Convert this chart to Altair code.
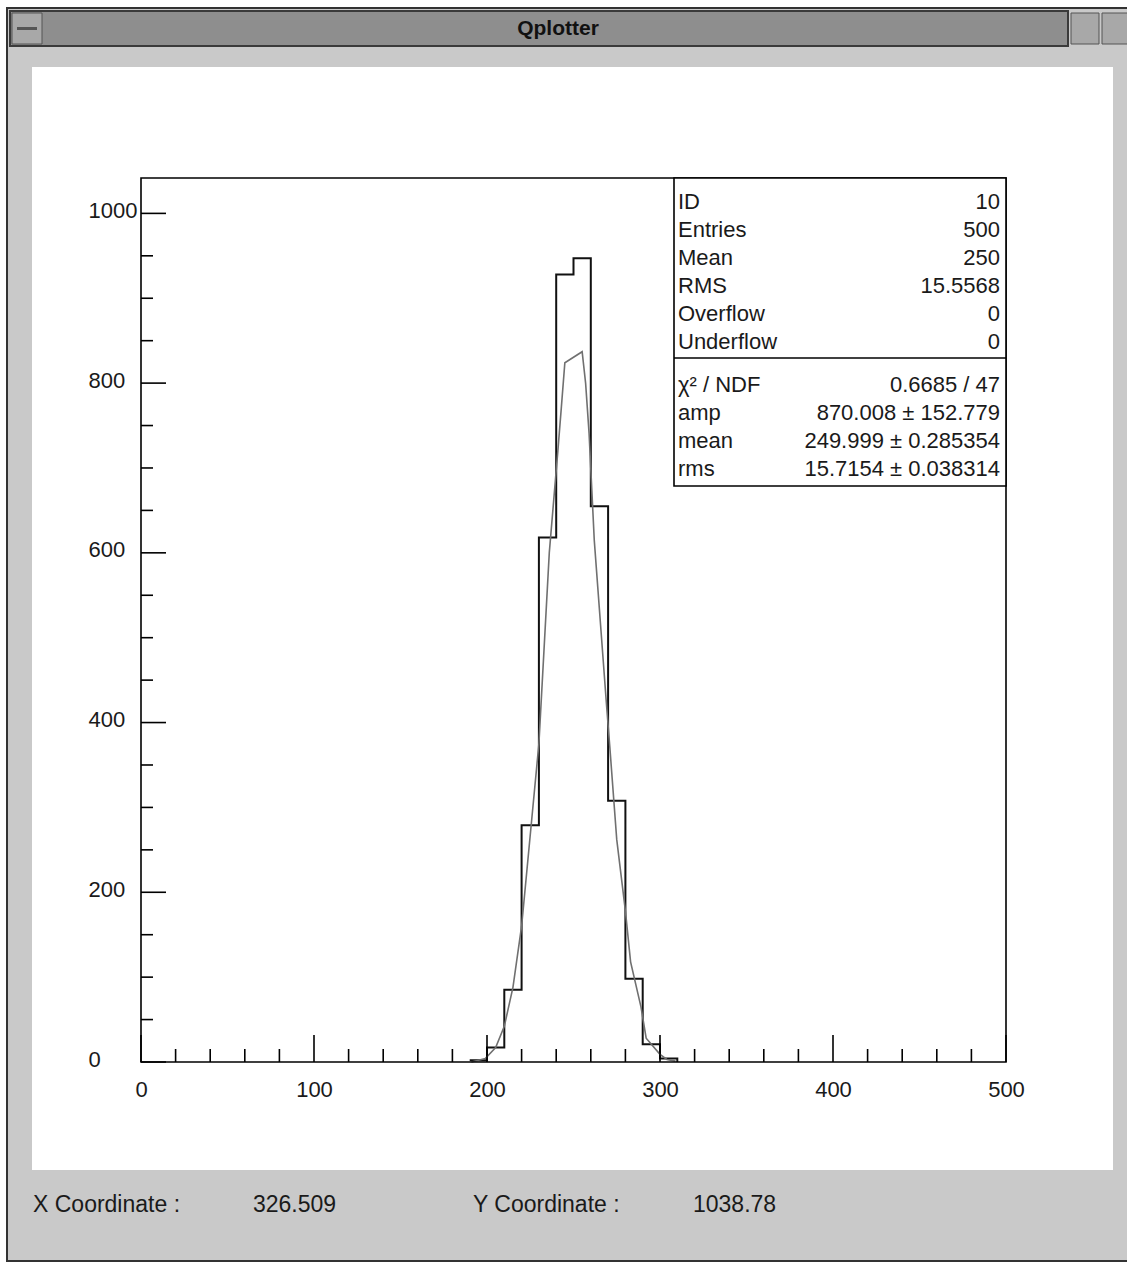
import altair as alt
import pandas as pd

# Histogram ID 10: lower bin edges (last value closes the final bin) and bin contents
bin_edges = [190, 200, 210, 220, 230, 240, 250, 260, 270, 280, 290, 300, 310]
bin_counts = [2, 17, 85, 279, 618, 928, 947, 655, 308, 98, 21, 4]

# Gaussian fit curve, as plotted over the histogram
fit_x = [191, 199, 205, 210, 215, 220, 226, 230, 236, 241, 243, 245, 255, 257, 259,
         262, 269, 271, 275, 280, 283, 289, 292, 300, 304, 309]
fit_y = [0, 4, 17, 42, 88, 160, 289, 375, 600, 721, 772, 824, 837, 800, 741,
         615, 423, 371, 262, 178, 118, 65, 28, 9, 3, 1]

# Statistics box
stat_names = ["ID", "Entries", "Mean", "RMS", "Overflow", "Underflow",
              "χ² / NDF", "amp", "mean", "rms"]
stat_values = ["10", "500", "250", "15.5568", "0", "0",
               "0.6685 / 47", "870.008 ± 152.779", "249.999 ± 0.285354", "15.7154 ± 0.038314"]

# Axis tick values
x_major = [0, 100, 200, 300, 400, 500]
x_minor = [v for v in range(0, 501, 20) if v % 100]
y_major = [0, 200, 400, 600, 800, 1000]
y_minor = [v for v in range(0, 1001, 50) if v % 200]

# Cursor read-out in the status bar
cursor_x = "326.509"
cursor_y = "1038.78"

FONT = "Liberation Sans"
INK = "#1a1a1a"
W, H = 865, 884
y_top = max(bin_counts) * 1.1

xs = alt.Scale(domain=[0, 500], nice=False, zero=False)
ys = alt.Scale(domain=[0, y_top], nice=False, zero=True)

axis_common = dict(ticks=False, tickSize=0, domain=False, grid=False, title=None,
                   labelFont=FONT, labelFontSize=22, labelColor=INK, zindex=2,
                   labelOverlap=False, labelFlush=False, format="d")
x_axis = alt.Axis(values=x_major, labelPadding=17, **axis_common)
y_axis = alt.Axis(values=y_major, labelAlign="left", labelPadding=53,
                  labelOffset=-3, labelBaseline="middle", **axis_common)

hist_df = pd.DataFrame({"x": bin_edges, "n": bin_counts + [0]})
fit_df = pd.DataFrame({"x": fit_x, "y": fit_y})
stats_df = pd.DataFrame({"i": list(range(len(stat_names))),
                         "name": stat_names, "value": stat_values})
one = pd.DataFrame({"k": [0]})


def deco_rect(x, x2, y, y2, **kw):
    return alt.Chart(one).mark_rect(**kw).encode(
        x=alt.value(x), x2=alt.value(x2), y=alt.value(y), y2=alt.value(y2))


def deco_text(txt, x, y, **kw):
    style = dict(font=FONT, fontSize=22, color=INK, baseline="middle", align="left")
    style.update(kw)
    return alt.Chart(one).mark_text(text=txt, **style).encode(
        x=alt.value(x), y=alt.value(y))


# Window chrome
window = deco_rect(-134, 990, -170, 1083, fill="#c9c9c9", stroke="#333333", strokeWidth=2)
titlebar = deco_rect(-131, 927, -167, -132, fill="#8e8e8e", stroke="#3a3a3a", strokeWidth=2)
btn_left = deco_rect(-129, -99, -165, -134, fill="#a8a8a8", stroke="#555555", strokeWidth=1)
btn_dash = deco_rect(-124, -104, -151, -148, fill="#555555")
btn_r1 = deco_rect(930, 958, -165, -134, fill="#a8a8a8", stroke="#555555", strokeWidth=1)
btn_r2 = deco_rect(961, 990, -165, -134, fill="#a8a8a8", stroke="#555555", strokeWidth=1)
title = deco_text("Qplotter", 417, -149, fontSize=21, fontWeight="bold", align="center", color="#111111")
canvas = deco_rect(-109, 972, -111, 992, fill="white")

status = (deco_text("X Coordinate :", -108, 1027, fontSize=23)
          + deco_text(cursor_x, 112, 1027, fontSize=23)
          + deco_text("Y Coordinate :", 332, 1027, fontSize=23)
          + deco_text(cursor_y, 552, 1027, fontSize=23))

# Plot frame
frame = deco_rect(0, W, 0, H, fill=None, stroke="black", strokeWidth=1.6)

# Inward tick marks
tick_style = dict(color="black", strokeWidth=1.6)
x_major_ticks = alt.Chart(pd.DataFrame({"v": x_major})).mark_rule(**tick_style).encode(
    x=alt.X("v:Q", scale=xs, axis=x_axis), y=alt.value(H), y2=alt.value(H - 27))
x_minor_ticks = alt.Chart(pd.DataFrame({"v": x_minor})).mark_rule(**tick_style).encode(
    x=alt.X("v:Q", scale=xs, axis=x_axis), y=alt.value(H), y2=alt.value(H - 13))
y_major_ticks = alt.Chart(pd.DataFrame({"v": y_major})).mark_rule(**tick_style).encode(
    y=alt.Y("v:Q", scale=ys, axis=y_axis), x=alt.value(0), x2=alt.value(25))
y_minor_ticks = alt.Chart(pd.DataFrame({"v": y_minor})).mark_rule(**tick_style).encode(
    y=alt.Y("v:Q", scale=ys, axis=y_axis), x=alt.value(0), x2=alt.value(12))

hist = alt.Chart(hist_df).mark_line(interpolate="step-after", color="#111111", strokeWidth=2).encode(
    x=alt.X("x:Q", scale=xs, axis=x_axis),
    y=alt.Y("n:Q", scale=ys, axis=y_axis),
)

fit = alt.Chart(fit_df).mark_line(color="#707070", strokeWidth=1.6).encode(
    x=alt.X("x:Q", scale=xs, axis=x_axis), y=alt.Y("y:Q", scale=ys, axis=y_axis))

# Statistics box
stat_box = deco_rect(533, W, 0, 308, fill="white", stroke="black", strokeWidth=1.6)
stat_div = alt.Chart(one).mark_rule(color="black", strokeWidth=1.6).encode(
    x=alt.value(533), x2=alt.value(W), y=alt.value(180))
stat_base = alt.Chart(stats_df).transform_calculate(
    py="datum.i < 6 ? 24 + 28 * datum.i : 39 + 28 * datum.i")
stat_names_txt = stat_base.mark_text(font=FONT, fontSize=22, color=INK, align="left", baseline="middle").encode(
    x=alt.value(537), y=alt.Y("py:Q", scale=None), text="name:N")
stat_vals_txt = stat_base.mark_text(font=FONT, fontSize=22, color=INK, align="right", baseline="middle").encode(
    x=alt.value(859), y=alt.Y("py:Q", scale=None), text="value:N")

chart = alt.layer(
    window, titlebar, btn_left, btn_dash, btn_r1, btn_r2, title, canvas, status,
    hist, fit, x_major_ticks, x_minor_ticks, y_major_ticks, y_minor_ticks, frame,
    stat_box, stat_div, stat_names_txt, stat_vals_txt,
).properties(
    width=W, height=H,
    autosize=alt.AutoSizeParams(type="none"),
    padding={"left": 141, "top": 178, "right": 121, "bottom": 202},
).configure(background="white").configure_view(stroke=None)

chart.save("out.html", embed_options={"renderer": "svg", "actions": False})
